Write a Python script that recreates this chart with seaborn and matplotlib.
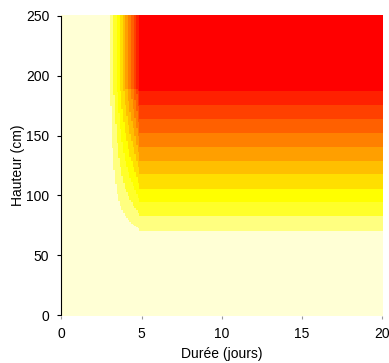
import matplotlib

matplotlib.use("Agg")

import matplotlib.pyplot as plt  # noqa: E402
import numpy as np  # noqa: E402
import pandas as pd  # noqa: E402
import seaborn as sns  # noqa: E402
from matplotlib.colors import ListedColormap  # noqa: E402

# colour level boundaries
niveaux = list(range(1, 12))
# height (cm) where each colour level starts once the duration is long enough
hauteurs_seuil = [71, 83, 94.5, 106, 118, 129, 141, 153, 164, 176, 188]
# duration (days) where each colour level starts for the highest rows
jours_seuil = [3.06, 3.25, 3.44, 3.63, 3.81, 4.0, 4.19, 4.38, 4.56, 4.69, 4.81]
couleurs = ["#FFFFD5", "#FFFF80", "#FFFF2A", "#FFFF00", "#FFDF00", "#FFBF00",
            "#FF9F00", "#FF8000", "#FF6000", "#FF4000", "#FF2000", "#FF0000"]
jours = np.round(np.arange(0, 20.001, 0.1), 1)
hauteurs = np.arange(0, 251, 1)
ticks_jours = [0, 5, 10, 15, 20]
ticks_hauteur = [0, 50, 100, 150, 200, 250]

# grid of colour levels: height factor x duration factor
fh = np.interp(hauteurs, hauteurs_seuil, niveaux, left=0, right=12)
ft = np.interp(jours, jours_seuil, niveaux, left=0, right=12)
niveau = np.clip(np.floor(np.outer(fh, ft) / 12 + 1e-9), 0, 11)
grille = pd.DataFrame(niveau, index=hauteurs, columns=jours)

plt.rcParams["font.family"] = ["Liberation Sans", "DejaVu Sans"]
plt.rcParams["font.size"] = 10

fig = plt.figure(figsize=(3.89, 3.63), dpi=100)
ax = fig.add_axes([60.5 / 389, 47 / 363, 322.5 / 389, 301 / 363])
sns.heatmap(grille, cmap=ListedColormap(couleurs), vmin=-0.5, vmax=11.5,
            cbar=False, ax=ax, xticklabels=False, yticklabels=False)
ax.invert_yaxis()

ax.set_xticks([t / 0.1 + 0.5 for t in ticks_jours])
ax.set_xticklabels([str(t) for t in ticks_jours], rotation=0)
ax.set_yticks([h + 0.5 for h in ticks_hauteur])
ax.set_yticklabels([str(h) for h in ticks_hauteur], rotation=0)
ax.tick_params(axis="y", length=3, width=0.8, color="black", pad=5)
ax.tick_params(axis="x", length=2, width=0.8, color="#999999", pad=6)

ax.spines["left"].set_visible(True)
ax.spines["left"].set_color("black")
ax.spines["left"].set_linewidth(0.8)
ax.spines["left"].set_bounds(0.5, 250.5)

ax.set_xlabel("Durée (jours)", labelpad=4)
ax.set_ylabel("Hauteur (cm)", labelpad=0.5)

fig.savefig("out.png", dpi=100)
